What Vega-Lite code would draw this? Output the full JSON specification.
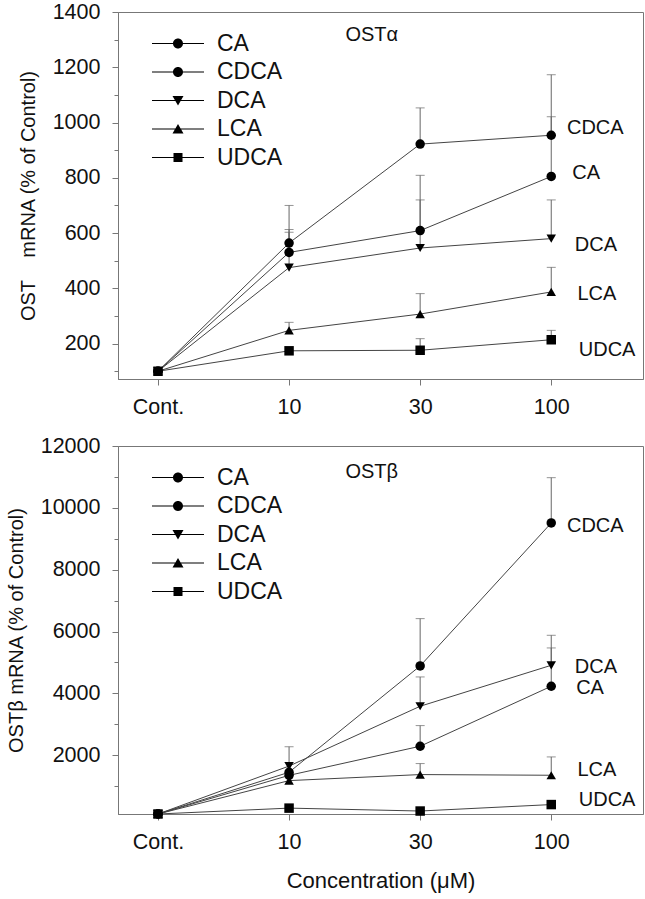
{
  "$schema": "https://vega.github.io/schema/vega-lite/v6.json",
  "padding": {"left": 5, "top": 0, "right": 2, "bottom": 4},
  "background": "white",
  "spacing": 16,
  "config": {
    "font": "Liberation Sans",
    "view": {"stroke": "#777", "strokeWidth": 1},
    "axis": {
      "grid": false,
      "domainColor": "#777",
      "tickColor": "#777",
      "labelColor": "#111",
      "titleColor": "#111",
      "labelFont": "Liberation Sans",
      "titleFont": "Liberation Sans",
      "labelFontSize": 21.5,
      "titleFontSize": 20,
      "titleFontWeight": "normal"
    },
    "legend": {"labelFont": "Liberation Sans"}
  },
  "resolve": {"legend": {"shape": "independent"}, "scale": {"shape": "independent"}},
  "vconcat": [
    {
      "width": 525,
      "height": 367,
      "data": {"values": [
        {"c": 0, "s": "CA", "v": 100},
        {"c": 0, "s": "CDCA", "v": 100},
        {"c": 0, "s": "DCA", "v": 100},
        {"c": 0, "s": "LCA", "v": 100},
        {"c": 0, "s": "UDCA", "v": 100},
        {"c": 1, "s": "CA", "v": 530, "hi": 613},
        {"c": 1, "s": "CDCA", "v": 564, "hi": 700},
        {"c": 1, "s": "DCA", "v": 475, "hi": 603},
        {"c": 1, "s": "LCA", "v": 248, "hi": 277},
        {"c": 1, "s": "UDCA", "v": 174},
        {"c": 2, "s": "CA", "v": 609, "hi": 809},
        {"c": 2, "s": "CDCA", "v": 922, "hi": 1053},
        {"c": 2, "s": "DCA", "v": 546, "hi": 720},
        {"c": 2, "s": "LCA", "v": 307, "hi": 381},
        {"c": 2, "s": "UDCA", "v": 176, "hi": 218},
        {"c": 3, "s": "CA", "v": 805, "hi": 1021},
        {"c": 3, "s": "CDCA", "v": 954, "hi": 1173},
        {"c": 3, "s": "DCA", "v": 580, "hi": 720},
        {"c": 3, "s": "LCA", "v": 387, "hi": 476},
        {"c": 3, "s": "UDCA", "v": 214, "hi": 248}
      ]},
      "encoding": {
        "x": {"field": "c", "type": "quantitative",
          "scale": {"domain": [-0.305, 3.7], "nice": false, "zero": false},
          "axis": {"values": [0, 1, 2, 3], "labelExpr": "['Cont.','10','30','100'][datum.value]", "title": null, "tickSize": 6, "labelPadding": 11}},
        "y": {"field": "v", "type": "quantitative",
          "scale": {"domain": [72, 1400], "nice": false, "zero": false},
          "axis": {"title": "OST\u00a0\u00a0\u00a0\u00a0mRNA (% of Control)", "values": [100,200,300,400,500,600,700,800,900,1000,1100,1200,1300,1400],
            "labelExpr": "datum.value % 200 == 0 ? datum.value + '' : ''",
            "tickSize": {"condition": {"test": "datum.value % 200 == 0", "value": 6}, "value": 4},
            "labelPadding": 12, "titlePadding": 14}}
      },
      "layer": [
        {"transform": [{"filter": "datum.hi != null"}],
         "mark": {"type": "rule", "color": "#666", "strokeWidth": 1},
         "encoding": {"y2": {"field": "hi"}}},
        {"transform": [{"filter": "datum.hi != null"}],
         "mark": {"type": "tick", "orient": "horizontal", "color": "#666", "size": 9, "thickness": 1},
         "encoding": {"y": {"field": "hi", "type": "quantitative"}}},
        {"mark": {"type": "line", "color": "#444", "strokeWidth": 1},
         "encoding": {"detail": {"field": "s", "type": "nominal"}}},
        {"transform": [{"filter": "datum.s == 'CA' || datum.s == 'CDCA'"}],
         "mark": {"type": "point", "shape": "circle", "filled": true, "color": "black", "opacity": 1, "size": 90}},
        {"transform": [{"filter": "datum.s == 'DCA'"}],
         "mark": {"type": "point", "shape": "triangle-down", "filled": true, "color": "black", "opacity": 1, "size": 90}},
        {"transform": [{"filter": "datum.s == 'LCA'"}],
         "mark": {"type": "point", "shape": "triangle-up", "filled": true, "color": "black", "opacity": 1, "size": 90}},
        {"transform": [{"filter": "datum.s == 'UDCA'"}],
         "mark": {"type": "point", "shape": "square", "filled": true, "color": "black", "opacity": 1, "size": 90}},
        {"transform": [{"filter": "datum.c > 99"}],
         "mark": {"type": "point", "filled": true, "color": "black", "opacity": 1, "size": 100},
         "encoding": {"shape": {"field": "s", "type": "nominal",
           "scale": {"domain": ["CA", "CDCA", "DCA", "LCA", "UDCA"], "range": [
             "M-5.2,-0.11H5.2V0.11H-5.2ZM-1,0A1,1,0,1,1,1,0A1,1,0,1,1,-1,0Z",
             "M-5.2,-0.11H5.2V0.11H-5.2ZM-1,0A1,1,0,1,1,1,0A1,1,0,1,1,-1,0Z",
             "M-5.2,-0.11H5.2V0.11H-5.2ZM-1.1,-0.9L1.1,-0.9L0,1Z",
             "M-5.2,-0.11H5.2V0.11H-5.2ZM1.1,0.9L-1.1,0.9L0,-1Z",
             "M-5.2,-0.11H5.2V0.11H-5.2ZM-0.9,-0.9H0.9V0.9H-0.9Z"]},
           "legend": {"title": null, "orient": "none", "legendX": 48.5, "legendY": 20, "padding": 0,
             "labelFontSize": 23, "labelColor": "#111", "symbolSize": 100, "rowPadding": 4.5, "labelOffset": 27.5,
             "symbolOpacity": 1, "symbolFillColor": "black", "symbolStrokeColor": "black", "symbolStrokeWidth": 0}}}},
        {"data": {"values": [
          {"lab": "CDCA", "c": 3.12, "v": 981},
          {"lab": "CA", "c": 3.16, "v": 819},
          {"lab": "DCA", "c": 3.18, "v": 558},
          {"lab": "LCA", "c": 3.2, "v": 381},
          {"lab": "UDCA", "c": 3.21, "v": 178},
          {"lab": "OSTα", "c": 1.43, "v": 1318}
         ]},
         "mark": {"type": "text", "align": "left", "baseline": "middle", "fontSize": 20, "color": "#111"},
         "encoding": {"text": {"field": "lab"}}}
      ]
    },
    {
      "width": 525,
      "height": 368,
      "data": {"values": [
        {"c": 0, "s": "CA", "v": 100},
        {"c": 0, "s": "CDCA", "v": 100},
        {"c": 0, "s": "DCA", "v": 100},
        {"c": 0, "s": "LCA", "v": 100},
        {"c": 0, "s": "UDCA", "v": 100},
        {"c": 1, "s": "CA", "v": 1350},
        {"c": 1, "s": "CDCA", "v": 1450, "hi": 2275},
        {"c": 1, "s": "DCA", "v": 1650},
        {"c": 1, "s": "LCA", "v": 1180},
        {"c": 1, "s": "UDCA", "v": 290},
        {"c": 2, "s": "CA", "v": 2291, "hi": 2959},
        {"c": 2, "s": "CDCA", "v": 4888, "hi": 6418},
        {"c": 2, "s": "DCA", "v": 3584, "hi": 4532},
        {"c": 2, "s": "LCA", "v": 1375, "hi": 1731},
        {"c": 2, "s": "UDCA", "v": 196},
        {"c": 3, "s": "CA", "v": 4231, "hi": 5470},
        {"c": 3, "s": "CDCA", "v": 9511, "hi": 10976},
        {"c": 3, "s": "DCA", "v": 4909, "hi": 5879},
        {"c": 3, "s": "LCA", "v": 1353, "hi": 1946},
        {"c": 3, "s": "UDCA", "v": 405}
      ]},
      "encoding": {
        "x": {"field": "c", "type": "quantitative",
          "scale": {"domain": [-0.305, 3.7], "nice": false, "zero": false},
          "axis": {"values": [0, 1, 2, 3], "labelExpr": "['Cont.','10','30','100'][datum.value]", "title": "Concentration (μM)", "titleFontSize": 22, "tickSize": 6, "labelPadding": 11, "titlePadding": 18}},
        "y": {"field": "v", "type": "quantitative",
          "scale": {"domain": [100, 12000], "nice": false, "zero": false},
          "axis": {"title": "OSTβ mRNA (% of Control)", "values": [1000,2000,3000,4000,5000,6000,7000,8000,9000,10000,11000,12000],
            "labelExpr": "datum.value % 2000 == 0 ? datum.value + '' : ''",
            "tickSize": {"condition": {"test": "datum.value % 2000 == 0", "value": 6}, "value": 4},
            "labelPadding": 12, "titlePadding": 14}}
      },
      "layer": [
        {"transform": [{"filter": "datum.hi != null"}],
         "mark": {"type": "rule", "color": "#666", "strokeWidth": 1},
         "encoding": {"y2": {"field": "hi"}}},
        {"transform": [{"filter": "datum.hi != null"}],
         "mark": {"type": "tick", "orient": "horizontal", "color": "#666", "size": 9, "thickness": 1},
         "encoding": {"y": {"field": "hi", "type": "quantitative"}}},
        {"mark": {"type": "line", "color": "#444", "strokeWidth": 1},
         "encoding": {"detail": {"field": "s", "type": "nominal"}}},
        {"transform": [{"filter": "datum.s == 'CA' || datum.s == 'CDCA'"}],
         "mark": {"type": "point", "shape": "circle", "filled": true, "color": "black", "opacity": 1, "size": 90}},
        {"transform": [{"filter": "datum.s == 'DCA'"}],
         "mark": {"type": "point", "shape": "triangle-down", "filled": true, "color": "black", "opacity": 1, "size": 90}},
        {"transform": [{"filter": "datum.s == 'LCA'"}],
         "mark": {"type": "point", "shape": "triangle-up", "filled": true, "color": "black", "opacity": 1, "size": 90}},
        {"transform": [{"filter": "datum.s == 'UDCA'"}],
         "mark": {"type": "point", "shape": "square", "filled": true, "color": "black", "opacity": 1, "size": 90}},
        {"transform": [{"filter": "datum.c > 99"}],
         "mark": {"type": "point", "filled": true, "color": "black", "opacity": 1, "size": 100},
         "encoding": {"shape": {"field": "s", "type": "nominal",
           "scale": {"domain": ["CA", "CDCA", "DCA", "LCA", "UDCA"], "range": [
             "M-5.2,-0.11H5.2V0.11H-5.2ZM-1,0A1,1,0,1,1,1,0A1,1,0,1,1,-1,0Z",
             "M-5.2,-0.11H5.2V0.11H-5.2ZM-1,0A1,1,0,1,1,1,0A1,1,0,1,1,-1,0Z",
             "M-5.2,-0.11H5.2V0.11H-5.2ZM-1.1,-0.9L1.1,-0.9L0,1Z",
             "M-5.2,-0.11H5.2V0.11H-5.2ZM1.1,0.9L-1.1,0.9L0,-1Z",
             "M-5.2,-0.11H5.2V0.11H-5.2ZM-0.9,-0.9H0.9V0.9H-0.9Z"]},
           "legend": {"title": null, "orient": "none", "legendX": 48.5, "legendY": 20, "padding": 0,
             "labelFontSize": 23, "labelColor": "#111", "symbolSize": 100, "rowPadding": 4.5, "labelOffset": 27.5,
             "symbolOpacity": 1, "symbolFillColor": "black", "symbolStrokeColor": "black", "symbolStrokeWidth": 0}}}},
        {"data": {"values": [
          {"lab": "CDCA", "c": 3.12, "v": 9413},
          {"lab": "DCA", "c": 3.18, "v": 4863},
          {"lab": "CA", "c": 3.19, "v": 4163},
          {"lab": "LCA", "c": 3.2, "v": 1521},
          {"lab": "UDCA", "c": 3.21, "v": 551},
          {"lab": "OSTβ", "c": 1.43, "v": 11160}
         ]},
         "mark": {"type": "text", "align": "left", "baseline": "middle", "fontSize": 20, "color": "#111"},
         "encoding": {"text": {"field": "lab"}}}
      ]
    }
  ]
}
